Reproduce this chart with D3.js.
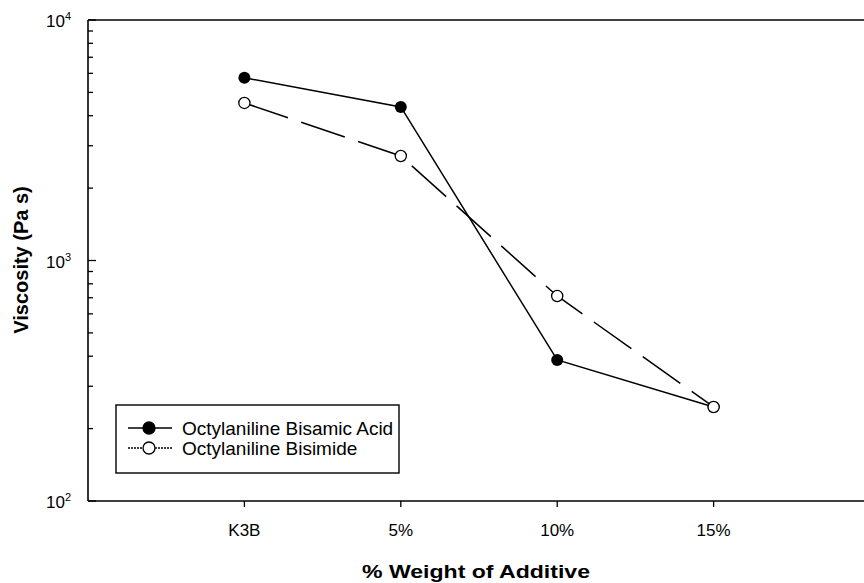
<!DOCTYPE html>
<html><head><meta charset="utf-8">
<script src="https://cdn.jsdelivr.net/npm/d3@7"></script>
<style>body{margin:0;background:#fff}svg{display:block}</style>
</head><body>
<svg id="c" width="864" height="583"></svg>
<script>
const categories = ["K3B", "5%", "10%", "15%"];
const bisamicAcid = [5750, 4350, 386, 246];
const bisimide = [4520, 2720, 712, 246];
const yTickLabels = [{e: 2, v: 100}, {e: 3, v: 1000}, {e: 4, v: 10000}];

const svg = d3.select("#c");
const L = 88, T = 20, B = 501, R = 870;
const x = d3.scaleLinear().domain([0, categories.length + 1]).range([L, R]);
const y = d3.scaleLog().domain([100, 10000]).range([B, T]);
const font = "Liberation Sans, Arial, sans-serif";

// frame
svg.append("line").attr("x1", L).attr("x2", 864).attr("y1", T).attr("y2", T).attr("stroke", "#000").attr("stroke-width", 1.6);
svg.append("line").attr("x1", L).attr("x2", 864).attr("y1", B).attr("y2", B).attr("stroke", "#000").attr("stroke-width", 1.6);
svg.append("line").attr("x1", L).attr("x2", L).attr("y1", T).attr("y2", B).attr("stroke", "#000").attr("stroke-width", 1.6);

// y minor/major ticks (inside)
const ticks = [];
for (let e = 2; e < 4; e++) for (let m = 1; m <= 9; m++) ticks.push(m * Math.pow(10, e));
ticks.push(10000);
svg.append("g").selectAll("line").data(ticks).join("line")
  .attr("x1", L).attr("x2", d => (Math.abs(Math.log10(d) % 1) < 1e-9) ? L + 8 : L + 5)
  .attr("y1", d => y(d)).attr("y2", d => y(d))
  .attr("stroke", "#000").attr("stroke-width", 1.3);

// y tick labels with superscripts
yTickLabels.forEach(t => {
  const tx = svg.append("text").attr("x", 71).attr("y", y(t.v) + 7)
    .attr("text-anchor", "end").attr("font-family", font).attr("font-size", 17);
  tx.append("tspan").text("10");
  tx.append("tspan").attr("dy", -7).attr("font-size", 11).text(t.e);
});

// x ticks
categories.forEach((c, i) => {
  const xx = x(i + 1);
  svg.append("line").attr("x1", xx).attr("x2", xx).attr("y1", B).attr("y2", B + 6).attr("stroke", "#000").attr("stroke-width", 1.3);
  svg.append("text").attr("x", xx).attr("y", 536).attr("text-anchor", "middle")
    .attr("font-family", font).attr("font-size", 17).text(c);
});

// axis titles
svg.append("text").attr("x", 476).attr("y", 578).attr("text-anchor", "middle")
  .attr("font-family", font).attr("font-size", 19).attr("font-weight", "bold")
  .attr("textLength", 228).attr("lengthAdjust", "spacingAndGlyphs").text("% Weight of Additive");
svg.append("text").attr("transform", "translate(28,260) rotate(-90)").attr("text-anchor", "middle")
  .attr("font-family", font).attr("font-size", 20).attr("font-weight", "bold").text("Viscosity (Pa s)");

// lines
const line = d3.line().x((d, i) => x(i + 1)).y(d => y(d));
svg.append("path").datum(bisimide).attr("d", line).attr("fill", "none").attr("stroke", "#000")
  .attr("stroke-width", 1.5).attr("stroke-dasharray", "46,14");
svg.append("path").datum(bisamicAcid).attr("d", line).attr("fill", "none").attr("stroke", "#000").attr("stroke-width", 1.5);

svg.selectAll("circle.a").data(bisamicAcid).join("circle")
  .attr("cx", (d, i) => x(i + 1)).attr("cy", d => y(d)).attr("r", 6).attr("fill", "#000");
svg.selectAll("circle.b").data(bisimide).join("circle")
  .attr("cx", (d, i) => x(i + 1)).attr("cy", d => y(d)).attr("r", 5.6).attr("fill", "#fff").attr("stroke", "#000").attr("stroke-width", 1.3);

// legend
const lg = svg.append("g");
lg.append("rect").attr("x", 116).attr("y", 405).attr("width", 283).attr("height", 68)
  .attr("fill", "#fff").attr("stroke", "#000").attr("stroke-width", 1.4);
const items = [{name: "Octylaniline Bisamic Acid", fill: "#000", dash: null},
               {name: "Octylaniline Bisimide", fill: "#fff", dash: "2,1"}];
items.forEach((it, i) => {
  const yy = 428 + i * 20;
  lg.append("line").attr("x1", 128).attr("x2", 172).attr("y1", yy).attr("y2", yy)
    .attr("stroke", "#000").attr("stroke-width", 1.4).attr("stroke-dasharray", it.dash);
  lg.append("circle").attr("cx", 149).attr("cy", yy).attr("r", 6).attr("fill", it.fill).attr("stroke", "#000").attr("stroke-width", 1.3);
  lg.append("text").attr("x", 182).attr("y", yy + 7).attr("font-family", font).attr("font-size", 19).text(it.name);
});
</script>
</body></html>
